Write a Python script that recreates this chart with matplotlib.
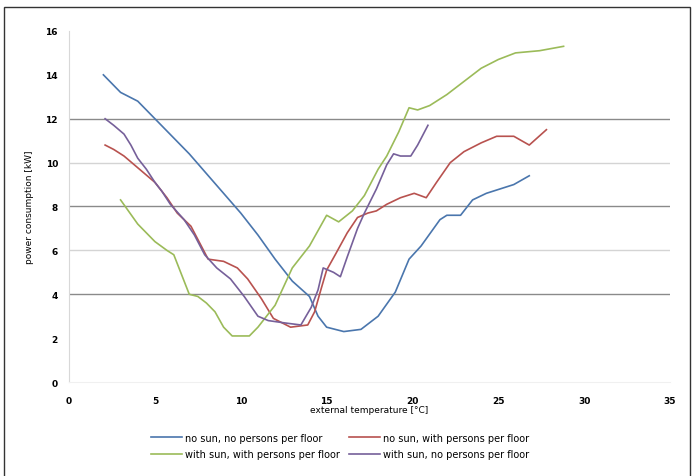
import matplotlib.pyplot as plt
from matplotlib.lines import Line2D

# external temperature [°C] / power [kW] per scenario
t_nosun_nopers = [2, 3, 4, 5, 6, 7, 8, 9, 10, 11, 12, 13, 14, 14.5, 15, 16, 17,
                  18, 19, 19.8, 20.5, 21.6, 22, 22.8, 23.5, 24.3, 25.1, 25.9, 26.8]
p_nosun_nopers = [14.0, 13.2, 12.8, 12.0, 11.2, 10.4, 9.5, 8.6, 7.7, 6.7, 5.6, 4.6,
                  3.9, 3.0, 2.5, 2.3, 2.4, 3.0, 4.1, 5.6, 6.2, 7.4, 7.6, 7.6, 8.3,
                  8.6, 8.8, 9.0, 9.4]

t_nosun_pers = [2.1, 2.6, 3.2, 3.8, 4.4, 5.0, 5.3, 5.7, 6.3, 7.1, 7.7, 8.1, 9.0,
                9.8, 10.4, 11.2, 11.9, 12.9, 13.9, 14.3, 14.7, 15.0, 15.5, 16.2,
                16.8, 17.4, 17.9, 18.5, 19.3, 20.1, 20.8, 21.4, 22.2, 23.0, 24.0,
                24.9, 25.9, 26.8, 27.8]
p_nosun_pers = [10.8, 10.6, 10.3, 9.9, 9.5, 9.1, 8.8, 8.4, 7.7, 7.1, 6.2, 5.6, 5.5,
                5.2, 4.7, 3.8, 2.9, 2.5, 2.6, 3.2, 4.3, 5.1, 5.8, 6.8, 7.5, 7.7,
                7.8, 8.1, 8.4, 8.6, 8.4, 9.1, 10.0, 10.5, 10.9, 11.2, 11.2, 10.8,
                11.5]

t_sun_pers = [3, 4, 5, 5.7, 6.1, 6.5, 7, 7.5, 8, 8.5, 9, 9.5, 10, 10.5, 11, 12,
              13, 14, 15, 15.7, 16.5, 17.2, 18, 18.5, 19.2, 19.8, 20.3, 21, 22,
              23, 24, 25, 26, 27.4, 28.8]
p_sun_pers = [8.3, 7.2, 6.4, 6.0, 5.8, 5.0, 4.0, 3.9, 3.6, 3.2, 2.5, 2.1, 2.1, 2.1,
              2.5, 3.5, 5.2, 6.2, 7.6, 7.3, 7.8, 8.5, 9.7, 10.3, 11.4, 12.5, 12.4,
              12.6, 13.1, 13.7, 14.3, 14.7, 15.0, 15.1, 15.3]

t_sun_nopers = [2.1, 2.6, 3.2, 3.6, 4.0, 4.5, 5.0, 5.4, 5.9, 6.7, 7.3, 7.9, 8.6,
                9.4, 10.2, 11.0, 11.6, 12.5, 13.5, 14.1, 14.5, 14.8, 15.4, 15.8,
                16.2, 16.8, 17.2, 17.9, 18.5, 18.9, 19.3, 19.9, 20.3, 20.9]
p_sun_nopers = [12.0, 11.7, 11.3, 10.8, 10.2, 9.7, 9.1, 8.7, 8.1, 7.4, 6.7, 5.8,
                5.2, 4.7, 3.9, 3.0, 2.8, 2.7, 2.6, 3.4, 4.2, 5.2, 5.0, 4.8, 5.7,
                7.0, 7.7, 8.8, 9.9, 10.4, 10.3, 10.3, 10.8, 11.7]

labels = ["no sun, no persons per floor", "no sun, with persons per floor",
          "with sun, with persons per floor", "with sun, no persons per floor"]
colors = ["#4A76AD", "#B8524F", "#9BBB59", "#76609A"]

x_ticks = [0, 5, 10, 15, 20, 25, 30, 35]
y_ticks = [0, 2, 4, 6, 8, 10, 12, 14, 16]
grid_dark = [4, 8, 12]
grid_light = [6, 10]

fig = plt.figure(figsize=(6.94, 4.77), dpi=100)
ax = fig.add_axes([0.0995, 0.197, 0.866, 0.736])

series = [(t_nosun_nopers, p_nosun_nopers), (t_nosun_pers, p_nosun_pers),
          (t_sun_pers, p_sun_pers), (t_sun_nopers, p_sun_nopers)]

for g in grid_dark:
    ax.axhline(g, color="#8a8a8a", linewidth=1.0, zorder=1)
for g in grid_light:
    ax.axhline(g, color="#d4d4d4", linewidth=1.0, zorder=1)

for (t, p), c, lab in zip(series, colors, labels):
    ax.plot(t, p, color=c, linewidth=1.2, label=lab, zorder=3)

ax.set_xlim(0, 35)
ax.set_ylim(0, 16)
ax.set_xticks(x_ticks)
ax.set_yticks(y_ticks)
ax.tick_params(length=0, labelsize=6.5, pad=8)
ax.tick_params(axis="x", pad=10)
for lbl in ax.get_xticklabels() + ax.get_yticklabels():
    lbl.set_fontweight("bold")

for side in ["top", "right"]:
    ax.spines[side].set_visible(False)
ax.spines["left"].set_color("#d8d8d8")
ax.spines["bottom"].set_color("#f0f0f0")

ax.set_xlabel("external temperature [°C]", fontsize=6.5, labelpad=0)
ax.set_ylabel("power consumption [kW]", fontsize=6.5, labelpad=8)

# legend fills column by column, so order entries to read row by row
order = [0, 2, 1, 3]
handles = [Line2D([0], [0], color=colors[i], linewidth=1.2) for i in order]
fig.legend(handles, [labels[i] for i in order], loc="center",
           bbox_to_anchor=(0.49, 0.063), ncol=2, frameon=False, fontsize=7,
           handlelength=3.2, columnspacing=1.0, labelspacing=0.65,
           handletextpad=0.3)

# outer frame of the chart area
frame = plt.Rectangle((0.006, -0.01), 0.988, 0.993, transform=fig.transFigure,
                      fill=False, edgecolor="#333333", linewidth=1.0)
fig.patches.append(frame)

fig.savefig("out.png", dpi=100)
